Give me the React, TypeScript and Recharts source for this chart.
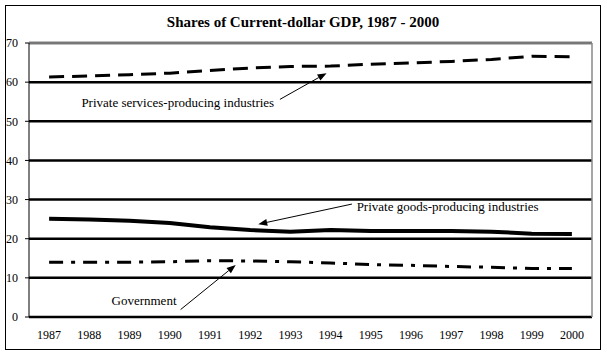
import { LineChart, Line, XAxis, YAxis, CartesianGrid, ReferenceLine, ReferenceDot } from 'recharts';

// Shares of current-dollar GDP (percent)
const years = [1987, 1988, 1989, 1990, 1991, 1992, 1993, 1994, 1995, 1996, 1997, 1998, 1999, 2000];
const servicesShare = [61.3, 61.6, 61.9, 62.3, 63.0, 63.6, 64.0, 64.1, 64.6, 64.9, 65.3, 65.8, 66.6, 66.5];
const goodsShare = [25.1, 24.9, 24.6, 24.0, 22.9, 22.2, 21.8, 22.2, 22.0, 22.0, 22.0, 21.8, 21.3, 21.2];
const governmentShare = [14.0, 14.0, 14.0, 14.1, 14.4, 14.3, 14.1, 13.8, 13.4, 13.2, 12.9, 12.7, 12.4, 12.4];
const yTicks = [0, 10, 20, 30, 40, 50, 60, 70];

// tick marks sit between the years
const boundaryTicks = [...years.map((y) => y - 0.5), years[years.length - 1] + 0.5];

const data = years.map((year, i) => ({
  year,
  services: servicesShare[i],
  goods: goodsShare[i],
  government: governmentShare[i],
}));

// annotation labels, in data units (year, percent)
const notes = [
  { text: 'Private services-producing industries', at: { x: 1990.2, y: 54.8 }, from: { x: 1992.74, y: 55.6 }, to: { x: 1993.9, y: 62.3 } },
  { text: 'Private goods-producing industries', at: { x: 1996.91, y: 28.2 }, from: { x: 1994.53, y: 28.85 }, to: { x: 1992.2, y: 23.7 } },
  { text: 'Government', at: { x: 1989.36, y: 4.3 }, from: { x: 1990.27, y: 1.9 }, to: { x: 1991.64, y: 13.3 } },
];

const FONT = 'Liberation Serif';

const Arrow = (props: any) => {
  const { x1, y1, x2, y2 } = props;
  const a = Math.atan2(y2 - y1, x2 - x1);
  const len = 9;
  const w = 3.5;
  const bx = x2 - len * Math.cos(a);
  const by = y2 - len * Math.sin(a);
  const px = -Math.sin(a) * w;
  const py = Math.cos(a) * w;
  return (
    <g>
      <line x1={x1} y1={y1} x2={bx} y2={by} stroke="#000" strokeWidth={1} />
      <polygon points={`${x2},${y2} ${bx + px},${by + py} ${bx - px},${by - py}`} fill="#000" />
    </g>
  );
};

export default function App() {
  return (
    <div style={{ position: 'absolute', left: 0, top: 0, width: 607, height: 355, background: '#fff', fontFamily: FONT }}>
      <div
        style={{
          position: 'absolute',
          left: 5,
          top: 5,
          width: 594,
          height: 343,
          border: '1px solid #000',
        }}
      />
      <div
        style={{
          position: 'absolute',
          left: 5,
          top: 14,
          width: 596,
          textAlign: 'center',
          fontWeight: 'bold',
          fontSize: 15,
          color: '#000',
        }}
      >
        Shares of Current-dollar GDP, 1987 - 2000
      </div>
      <div style={{ position: 'absolute', left: 0, top: 0 }}>
        <LineChart width={607} height={355} data={data} margin={{ top: 43, right: 15, left: 0, bottom: 18 }} style={{ fontFamily: FONT }}>
          <CartesianGrid vertical={false} stroke="#000" strokeWidth={2.5} yAxisId="pct" xAxisId="yr" />
          <XAxis
            xAxisId="ticks"
            type="number"
            dataKey="year"
            domain={[1986.5, 2000.5]}
            ticks={boundaryTicks}
            tickFormatter={() => ''}
            height={0}
            tickSize={5}
            stroke="#000"
            allowDataOverflow
          />
          <XAxis
            xAxisId="yr"
            type="number"
            dataKey="year"
            domain={[1986.5, 2000.5]}
            ticks={years}
            interval={0}
            height={20}
            tickLine={false}
            axisLine={false}
            tickSize={6}
            tickMargin={7}
            tick={{ fill: '#000', fontSize: 12, fontFamily: FONT }}
            allowDataOverflow
          />
          <YAxis
            yAxisId="pct"
            width={29}
            domain={[0, 70]}
            ticks={yTicks}
            interval={0}
            tickSize={4}
            tickMargin={7}
            stroke="#000"
            tick={{ fill: '#000', fontSize: 12, fontFamily: FONT }}
          />
          <ReferenceLine xAxisId="yr" yAxisId="pct" y={70} stroke="#777" strokeWidth={2} />
          <ReferenceLine xAxisId="yr" yAxisId="pct" x={2000.5} stroke="#888" strokeWidth={1.5} />
          <Line
            xAxisId="yr"
            yAxisId="pct"
            dataKey="services"
            type="linear"
            stroke="#000"
            strokeWidth={3}
            strokeDasharray="15 8"
            dot={false}
            isAnimationActive={false}
          />
          <Line
            xAxisId="yr"
            yAxisId="pct"
            dataKey="goods"
            type="linear"
            stroke="#000"
            strokeWidth={4}
            dot={false}
            isAnimationActive={false}
          />
          <Line
            xAxisId="yr"
            yAxisId="pct"
            dataKey="government"
            type="linear"
            stroke="#000"
            strokeWidth={3}
            strokeDasharray="14 8 4 8"
            dot={false}
            isAnimationActive={false}
          />
          {notes.map((n) => (
            <ReferenceLine
              key={n.text + '-arrow'}
              xAxisId="yr"
              yAxisId="pct"
              segment={[n.from, n.to]}
              shape={Arrow}
            />
          ))}
          {notes.map((n) => (
            <ReferenceDot
              key={n.text}
              xAxisId="yr"
              yAxisId="pct"
              x={n.at.x}
              y={n.at.y}
              r={0}
              stroke="none"
              fill="none"
              label={{ value: n.text, position: 'center', fill: '#000', fontSize: 13, fontFamily: FONT }}
            />
          ))}
        </LineChart>
      </div>
    </div>
  );
}
